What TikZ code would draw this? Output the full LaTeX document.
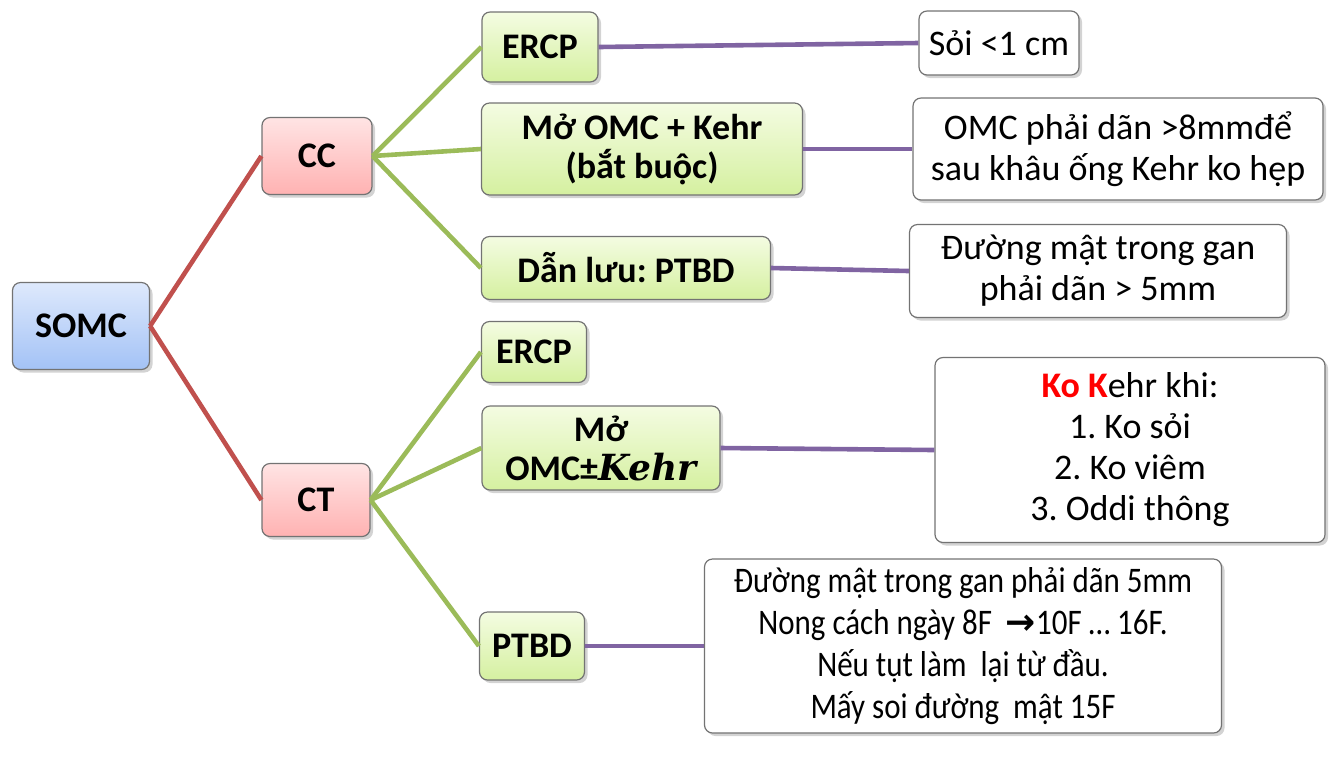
\documentclass[tikz,border=0pt]{standalone}
\usepackage{fontspec}
\setmainfont{Carlito}
\newfontfamily\narrowfont[FakeStretch=0.86]{Carlito}
\newfontfamily\symfont{DejaVu Sans}
\newfontfamily\kehrfont{DejaVu Serif}
\usetikzlibrary{shadows}
\definecolor{redline}{HTML}{C0504D}
\definecolor{greenline}{HTML}{9BBB59}
\definecolor{purpleline}{HTML}{8064A2}
\tikzset{
  box/.style={draw=black!55, line width=0.6pt, rounded corners=4pt, align=center, inner sep=2pt,
    drop shadow={shadow xshift=1.5pt, shadow yshift=-1.5pt, opacity=0.35}},
  rootbox/.style={box, top color={rgb,255:red,222;green,233;blue,252}, bottom color={rgb,255:red,163;green,194;blue,246},
    font=\bfseries\fontsize{18}{20}\selectfont},
  midbox/.style={box, top color={rgb,255:red,255;green,228;blue,228}, bottom color={rgb,255:red,255;green,178;blue,178},
    font=\bfseries\fontsize{18}{20}\selectfont},
  leafbox/.style={box, top color={rgb,255:red,244;green,252;blue,226}, bottom color={rgb,255:red,213;green,240;blue,160},
    font=\bfseries\fontsize{18}{19.5}\selectfont},
  notebox/.style={box, fill=white, font=\fontsize{18}{20.5}\selectfont},
  rline/.style={redline, line width=2.3pt},
  gline/.style={greenline, line width=2.3pt},
  pline/.style={purpleline, line width=2.3pt}
}

\begin{document}
\frenchspacing
\begin{tikzpicture}[x=0.5pt,y=-0.5pt]
  \useasboundingbox (0,0) rectangle (1344,768);

  %root and first level
  \node[rootbox, minimum width=68.5pt, minimum height=43.5pt] (somc) at (81,326) {SOMC};
  \node[midbox, minimum width=55pt, minimum height=38.5pt] (cc) at (317,156) {CC};
  \node[midbox, minimum width=54pt, minimum height=36.5pt] (ct) at (316,500) {CT};

  %second level, CC
  \node[leafbox, minimum width=58pt, minimum height=35pt] (ercpa) at (540,47) {ERCP};
  \node[leafbox, minimum width=160.5pt, minimum height=46pt] (moa) at (642,149) {Mở OMC + Kehr\\(bắt buộc)};
  \node[leafbox, minimum width=144.5pt, minimum height=31.5pt] (dla) at (626,268) {Dẫn lưu: PTBD};

  %second level, CT
  \node[leafbox, minimum width=52.5pt, minimum height=30.5pt] (ercpb) at (534,352) {ERCP};
  \node[leafbox, minimum width=119pt, minimum height=42pt] (mob) at (601,448) {Mở\\OMC±{\kehrfont\itshape Kehr}};
  \node[leafbox, minimum width=52.5pt, minimum height=34pt] (ptbd) at (532,646) {PTBD};

  %notes
  \node[notebox, minimum width=80pt, minimum height=32pt] (soi) at (999,43) {Sỏi <1 cm};
  \node[notebox, minimum width=205pt, minimum height=51pt] (omcnote) at (1118,149) {OMC phải dãn >8mmđể\\sau khâu ống Kehr ko hẹp};
  \node[notebox, minimum width=188.5pt, minimum height=46.5pt] (gannote) at (1098,271) {Đường mật trong gan\\phải dãn > 5mm};
  \node[notebox, minimum width=195pt, minimum height=92.5pt] (konote) at (1130,450)
    {{\bfseries\color{red}Ko K}ehr khi:\\1. Ko sỏi\\2. Ko viêm\\3. Oddi thông};
  \node[notebox, minimum width=258.5pt, minimum height=87pt, font=\narrowfont\fontsize{18}{21}\selectfont] (ptbdnote) at (963,646)
    {Đường mật trong gan phải dãn 5mm\\Nong cách ngày 8F\ \ {\symfont\bfseries →}10F … 16F.\\Nếu tụt làm\ \ lại từ đầu.\\Mấy soi đường\ \ mật 15F};

  %connectors
  \draw[rline] (somc.east) -- (cc.west);
  \draw[rline] (somc.east) -- (ct.west);
  \foreach \n in {ercpa,moa,dla} \draw[gline] (cc.east) -- (\n.west);
  \foreach \n in {ercpb,mob,ptbd} \draw[gline] (ct.east) -- (\n.west);
  \draw[pline] (ercpa.east) -- (soi.west);
  \draw[pline] (moa.east) -- (omcnote.west);
  \draw[pline] (dla.east) -- (gannote.west);
  \draw[pline] (mob.east) -- (konote.west);
  \draw[pline] (ptbd.east) -- (ptbdnote.west);
\end{tikzpicture}
\end{document}
